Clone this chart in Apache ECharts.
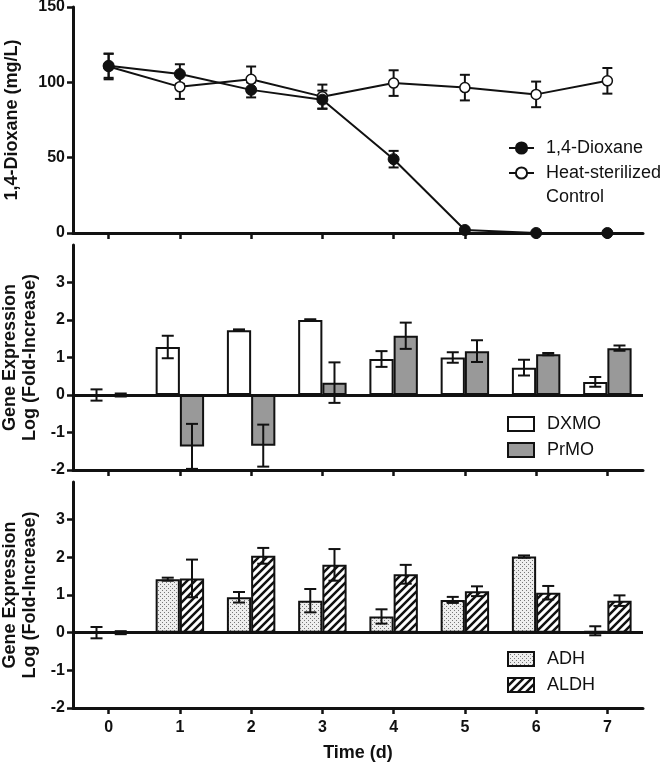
<!DOCTYPE html>
<html><head><meta charset="utf-8">
<script src="https://cdn.jsdelivr.net/npm/echarts@6/dist/echarts.min.js"></script>
<style>html,body{margin:0;padding:0;background:#fff}#c{width:666px;height:767px}</style>
</head><body><div id="c"></div>
<script>
// ---- data ----
const days = ['0','1','2','3','4','5','6','7'];
const dioxane    = [111, 105.5, 95, 88.5, 49, 2, 0, 0];
const dioxaneErr = [8, 6.5, 5, 6, 5.5, 0, 0, 0];
const control    = [110.5, 97, 102, 90.5, 99.5, 96.5, 92, 101];
const controlErr = [8.5, 8, 8.5, 8, 8.5, 8.5, 8.5, 8.5];
const dxmo    = [0, 1.28, 1.73, 2.0, 0.96, 1.0, 0.73, 0.35];
const dxmoErr = [0.15, 0.3, 0.02, 0.02, 0.21, 0.14, 0.21, 0.13];
const prmo    = [0, -1.37, -1.35, 0.33, 1.58, 1.17, 1.09, 1.25];
const prmoErr = [0.04, 0.6, 0.56, 0.54, 0.35, 0.29, 0.03, 0.07];
const adh     = [0, 1.42, 0.94, 0.85, 0.43, 0.87, 2.02, 0.05];
const adhErr  = [0.15, 0.04, 0.14, 0.31, 0.19, 0.08, 0.03, 0.12];
const aldh    = [0, 1.44, 2.04, 1.8, 1.55, 1.1, 1.06, 0.85];
const aldhErr = [0.04, 0.5, 0.21, 0.42, 0.25, 0.13, 0.18, 0.14];
const topTicks = [0, 50, 100, 150];
const geneTicks = [-2, -1, 0, 1, 2, 3];

// ---- patterns ----
function stipple(){
  const c = document.createElement('canvas'); c.width = 4; c.height = 4;
  const g = c.getContext('2d');
  g.fillStyle = '#eeeeee'; g.fillRect(0,0,4,4);
  g.fillStyle = '#777777'; g.fillRect(0,0,1,1); g.fillRect(2,2,1,1);
  return {image: c, repeat: 'repeat'};
}
function hatch(){
  const s = 8;
  const c = document.createElement('canvas'); c.width = s; c.height = s;
  const g = c.getContext('2d');
  g.fillStyle = '#fff'; g.fillRect(0,0,s,s);
  g.strokeStyle = '#111'; g.lineWidth = 2.5;
  g.beginPath();
  g.moveTo(-2, s+2); g.lineTo(s+2, -2);
  g.moveTo(-2-s/2, s/2+2); g.lineTo(s/2+2, -2-s/2);
  g.moveTo(s/2-2, s+s/2+2); g.lineTo(s+s/2+2, s/2-2);
  g.stroke();
  return {image: c, repeat: 'repeat'};
}

const INK = '#111';
const FONT = "'Liberation Sans', Arial, sans-serif";

function errRender(offsetFrac, cap){
  return function(params, api){
    const xi = api.value(0), v = api.value(1), e = api.value(2);
    if (!e) return null;
    const bw = api.size([1, 0])[0];
    const c = api.coord([xi, v]);
    const x = c[0] + bw * offsetFrac;
    const top = api.coord([xi, v + e])[1];
    const bot = api.coord([xi, v - e])[1];
    const st = {stroke: INK, lineWidth: 2};
    return {type: 'group', children: [
      {type: 'line', shape: {x1: x, y1: top, x2: x, y2: bot}, style: st},
      {type: 'line', shape: {x1: x - cap, y1: top, x2: x + cap, y2: top}, style: st},
      {type: 'line', shape: {x1: x - cap, y1: bot, x2: x + cap, y2: bot}, style: st}
    ]};
  };
}
function errData(vals, errs){ return vals.map((v, i) => [i, v, errs[i]]); }

function xAxisCfg(idx, showLabels){
  return {
    type: 'category', gridIndex: idx, data: days, boundaryGap: true,
    axisLine: {show: true, onZero: false, lineStyle: {color: INK, width: 3}},
    axisTick: {show: true, alignWithLabel: true, length: 6, lineStyle: {color: INK, width: 2.5}},
    axisLabel: {show: showLabels, color: INK, fontFamily: FONT, fontWeight: 'bold', fontSize: 16, margin: 12},
    splitLine: {show: false}
  };
}
function yAxisCfg(idx, min, max, interval, ticks, name, nameGap){
  return {
    type: 'value', gridIndex: idx, min: min, max: max, interval: interval,
    name: name, nameLocation: 'middle', nameGap: nameGap,
    nameTextStyle: {color: INK, fontFamily: FONT, fontWeight: 'bold', fontSize: 18, lineHeight: 20},
    axisLine: {show: true, lineStyle: {color: INK, width: 3}},
    axisTick: {show: true, length: 6, lineStyle: {color: INK, width: 2.5}, customValues: ticks},
    axisLabel: {show: true, color: INK, fontFamily: FONT, fontWeight: 'bold', fontSize: 16, margin: 8, customValues: ticks},
    splitLine: {show: false}
  };
}

const zeroLine = {
  silent: true, symbol: ['none', 'none'], label: {show: false},
  lineStyle: {color: INK, width: 3, type: 'solid'},
  emphasis: {disabled: true},
  data: [{yAxis: 0}]
};

const barBase = {type: 'bar', barWidth: '34%', barGap: '0%'};
const legendText = {color: INK, fontFamily: FONT, fontSize: 18};
const gridBase = {left: 73, right: 23, containLabel: false, outerBoundsMode: 'none'};

const option = {
  animation: false,
  backgroundColor: '#fff',
  textStyle: {fontFamily: FONT},
  grid: [
    Object.assign({top: 7, height: 226}, gridBase),
    Object.assign({top: 245, height: 225}, gridBase),
    Object.assign({top: 482, height: 226}, gridBase)
  ],
  xAxis: [
    xAxisCfg(0, false),
    xAxisCfg(1, false),
    Object.assign(xAxisCfg(2, true), {name: 'Time (d)', nameLocation: 'middle', nameGap: 36,
      nameTextStyle: {color: INK, fontFamily: FONT, fontWeight: 'bold', fontSize: 18}})
  ],
  yAxis: [
    yAxisCfg(0, 0, 150, 50, topTicks, '1,4-Dioxane (mg/L)', 51),
    yAxisCfg(1, -2, 4, 1, geneTicks, 'Gene Expression\nLog (Fold-Increase)', 26),
    yAxisCfg(2, -2, 4, 1, geneTicks, 'Gene Expression\nLog (Fold-Increase)', 26)
  ],
  legend: [
    {left: 508, top: 136, padding: 0, orient: 'vertical', itemWidth: 25, itemHeight: 14,
     data: ['1,4-Dioxane'], textStyle: Object.assign({lineHeight: 24, padding: [0,0,0,7]}, legendText)},
    {left: 508, top: 137, padding: 0, orient: 'vertical', itemWidth: 25, itemHeight: 14,
     data: ['Heat-sterilized\nControl'],
     formatter: function(n){ return ' \n' + n; },
     textStyle: Object.assign({lineHeight: 24, padding: [0,0,0,7]}, legendText)},
    {left: 507, top: 414, padding: 0, orient: 'vertical', itemWidth: 26, itemHeight: 14, itemGap: 6,
     icon: 'rect', data: ['DXMO', 'PrMO'],
     textStyle: Object.assign({lineHeight: 20, padding: [0,0,0,8]}, legendText)},
    {left: 507, top: 649, padding: 0, orient: 'vertical', itemWidth: 26, itemHeight: 14, itemGap: 6,
     icon: 'rect', data: ['ADH', 'ALDH'],
     textStyle: Object.assign({lineHeight: 20, padding: [0,0,0,8]}, legendText)}
  ],
  series: [
    // top panel
    {type: 'custom', name: 'errD', xAxisIndex: 0, yAxisIndex: 0, z: 1,
     renderItem: errRender(0, 5), encode: {x: 0, y: 1}, data: errData(dioxane, dioxaneErr)},
    {type: 'custom', name: 'errC', xAxisIndex: 0, yAxisIndex: 0, z: 1,
     renderItem: errRender(0, 5), encode: {x: 0, y: 1}, data: errData(control, controlErr)},
    {type: 'line', name: 'Heat-sterilized\nControl', xAxisIndex: 0, yAxisIndex: 0, z: 3,
     data: control, symbol: 'circle', symbolSize: 10,
     lineStyle: {color: INK, width: 2}, itemStyle: {color: '#fff', borderColor: INK, borderWidth: 1.5}},
    {type: 'line', name: '1,4-Dioxane', xAxisIndex: 0, yAxisIndex: 0, z: 4,
     data: dioxane, symbol: 'circle', symbolSize: 11,
     lineStyle: {color: INK, width: 2}, itemStyle: {color: INK, borderColor: INK, borderWidth: 1}},
    // middle panel
    Object.assign({}, barBase, {name: 'DXMO', xAxisIndex: 1, yAxisIndex: 1, data: dxmo,
      itemStyle: {color: '#fff', borderColor: INK, borderWidth: 2}, markLine: zeroLine}),
    Object.assign({}, barBase, {name: 'PrMO', xAxisIndex: 1, yAxisIndex: 1, data: prmo,
      itemStyle: {color: '#999999', borderColor: INK, borderWidth: 2}}),
    {type: 'custom', xAxisIndex: 1, yAxisIndex: 1, z: 5,
     renderItem: errRender(-0.17, 6), encode: {x: 0, y: 1}, data: errData(dxmo, dxmoErr)},
    {type: 'custom', xAxisIndex: 1, yAxisIndex: 1, z: 5,
     renderItem: errRender(0.17, 6), encode: {x: 0, y: 1}, data: errData(prmo, prmoErr)},
    // bottom panel
    Object.assign({}, barBase, {name: 'ADH', xAxisIndex: 2, yAxisIndex: 2, data: adh,
      itemStyle: {color: stipple(), borderColor: INK, borderWidth: 2}, markLine: zeroLine}),
    Object.assign({}, barBase, {name: 'ALDH', xAxisIndex: 2, yAxisIndex: 2, data: aldh,
      itemStyle: {color: hatch(), borderColor: INK, borderWidth: 2}}),
    {type: 'custom', xAxisIndex: 2, yAxisIndex: 2, z: 5,
     renderItem: errRender(-0.17, 6), encode: {x: 0, y: 1}, data: errData(adh, adhErr)},
    {type: 'custom', xAxisIndex: 2, yAxisIndex: 2, z: 5,
     renderItem: errRender(0.17, 6), encode: {x: 0, y: 1}, data: errData(aldh, aldhErr)}
  ]
};
const chart = echarts.init(document.getElementById('c'), null, {renderer: 'canvas'});
chart.setOption(option);
</script></body></html>
